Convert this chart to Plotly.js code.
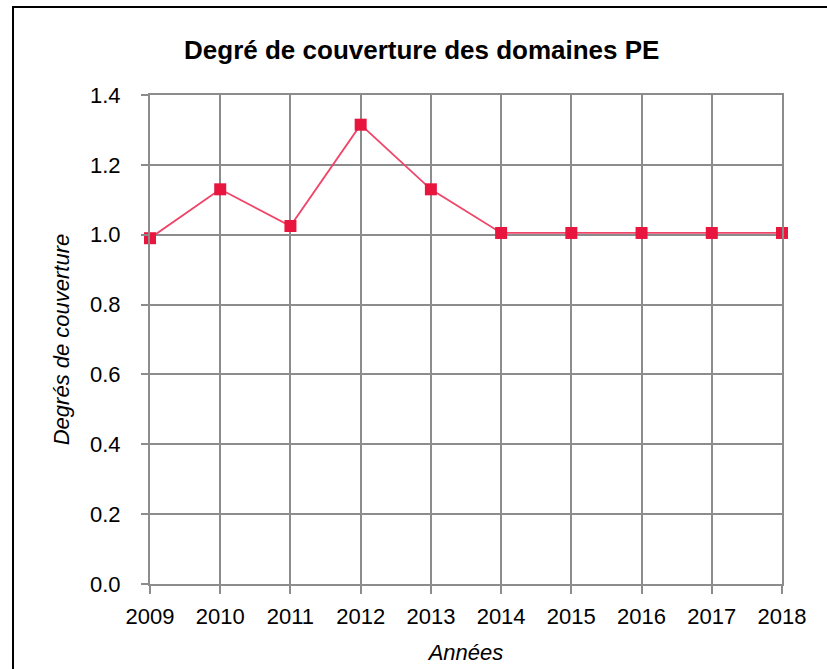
<!DOCTYPE html>
<html>
<head>
<meta charset="utf-8">
<script src="https://cdn.plot.ly/plotly-3.0.1.min.js"></script>
<style>
html,body{margin:0;padding:0;overflow:hidden;background:#fff;}
#frame{position:absolute;left:12px;top:6px;width:900px;height:900px;border:2px solid #000;pointer-events:none;}
#chart{width:827px;height:669px;}
</style>
</head>
<body>
<div id="chart"></div>
<div id="frame"></div>
<script>
const years = ['2009','2010','2011','2012','2013','2014','2015','2016','2017','2018'];
const coverage = [0.99, 1.13, 1.025, 1.315, 1.13, 1.005, 1.005, 1.005, 1.005, 1.005];
const yTicks = [0, 0.2, 0.4, 0.6, 0.8, 1.0, 1.2, 1.4];
const yTickLabels = ['0.0','0.2','0.4','0.6','0.8','1.0','1.2','1.4'];

const FONT = '"Liberation Sans", Arial, sans-serif';
const GRID = '#8c8c8c';

const trace = {
  x: years,
  y: coverage,
  type: 'scatter',
  mode: 'lines+markers',
  line: {color: '#F04468', width: 1.8},
  marker: {symbol: 'square', size: 12, color: '#E8163F'},
  cliponaxis: false,
  hoverinfo: 'x+y'
};

const layout = {
  width: 827,
  height: 669,
  margin: {l: 150, r: 45, t: 95, b: 85},
  paper_bgcolor: '#fff',
  plot_bgcolor: '#fff',
  showlegend: false,
  font: {family: FONT, color: '#000', size: 22},
  title: {
    text: '<b>Degré de couverture des domaines PE</b>',
    font: {family: FONT, size: 26, color: '#000'},
    x: 0.51, xanchor: 'center', xref: 'container',
    y: 0.925, yanchor: 'middle'
  },
  xaxis: {
    type: 'category',
    range: [0, 9],
    showgrid: true,
    gridcolor: GRID,
    gridwidth: 2,
    zeroline: false,
    showline: true,
    mirror: true,
    linecolor: GRID,
    linewidth: 2,
    ticks: 'outside',
    ticklen: 8,
    tickwidth: 2,
    tickcolor: GRID,
    tickfont: {family: FONT, size: 22, color: '#000'},
    ticklabelstandoff: 4,
    title: {text: '<i>Années</i>', font: {family: FONT, size: 22, color: '#000'}, standoff: 16}
  },
  yaxis: {
    range: [0, 1.4],
    tickvals: yTicks,
    ticktext: yTickLabels,
    showgrid: true,
    gridcolor: GRID,
    gridwidth: 2,
    zeroline: false,
    showline: true,
    mirror: true,
    linecolor: GRID,
    linewidth: 2,
    ticks: 'outside',
    ticklen: 7,
    tickwidth: 2,
    tickcolor: GRID,
    tickfont: {family: FONT, size: 22, color: '#000'},
    ticklabelstandoff: 16,
    title: {text: '<i>Degrés de couverture</i>', font: {family: FONT, size: 22, color: '#000'}, standoff: 14}
  }
};

Plotly.newPlot('chart', [trace], layout, {displayModeBar: false, staticPlot: true});
</script>
</body>
</html>
